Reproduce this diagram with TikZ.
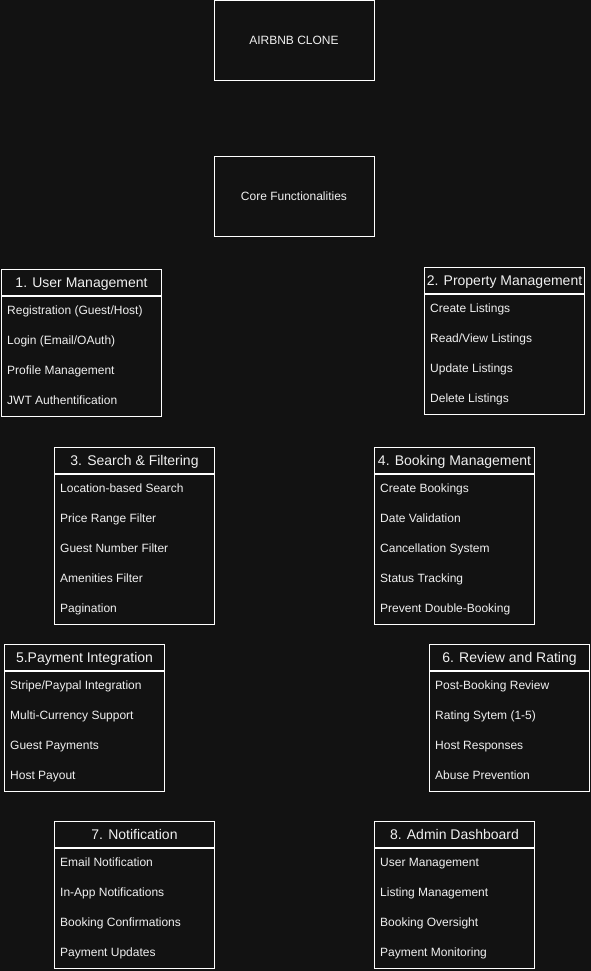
\documentclass[tikz,border=0pt]{standalone}
\usepackage{fontspec}
\setmainfont{Liberation Sans}
\usepackage{tikz}
\usetikzlibrary{positioning}
\usepackage{xcolor}
\definecolor{canvasdark}{RGB}{18,18,18}
\definecolor{inkwhite}{RGB}{240,240,240}

\begin{document}
\begin{tikzpicture}[
    x=1pt, y=-1pt,
    every node/.style={font=\fontsize{12}{14}\selectfont, text=inkwhite},
    titlebox/.style={rectangle, draw=white, line width=1pt, minimum width=160pt, minimum height=80pt, inner sep=0pt, text height=8.6pt, text depth=0pt},
    header/.style={rectangle, draw=white, line width=1pt, minimum width=160pt, minimum height=26pt, inner sep=0pt, anchor=north west, text height=10pt, text depth=0pt, font=\fontsize{14}{16}\selectfont},
    listbody/.style={rectangle, draw=white, line width=1pt, minimum width=160pt, inner sep=0pt, anchor=north},
    entry/.style={anchor=west, inner sep=0pt, text height=8.6pt, text depth=0pt}
]

% Canvas
\fill[canvasdark] (0,0) rectangle (591,971);

% Top boxes
\node[titlebox] (clone) at (294,40.5) {AIRBNB CLONE};
\node[titlebox] (core) at (294,196) {Core Functionalities};

% 1. User Management
\node[header] (user) at (1,269) {1. User Management};
\node[listbody, minimum height=120pt] (userbody) at (user.south) {};
\foreach \txt [count=\i from 0] in {{Registration (Guest/Host)}, {Login (Email/OAuth)}, Profile Management, JWT Authentification} {
    \node[entry] (user-\i) at ([shift={(6,{14.5+30*\i})}]user.south west) {\txt};
}

% 2. Property Management
\node[header] (property) at (424,267) {2. Property Management};
\node[listbody, minimum height=120pt] (propertybody) at (property.south) {};
\foreach \txt [count=\i from 0] in {Create Listings, {Read/View Listings}, Update Listings, Delete Listings} {
    \node[entry] (property-\i) at ([shift={(6,{14.5+30*\i})}]property.south west) {\txt};
}

% 3. Search & Filtering
\node[header] (search) at (54,447) {3. Search \& Filtering};
\node[listbody, minimum height=150pt] (searchbody) at (search.south) {};
\foreach \txt [count=\i from 0] in {Location-based Search, Price Range Filter, Guest Number Filter, Amenities Filter, Pagination} {
    \node[entry] (search-\i) at ([shift={(6,{14.5+30*\i})}]search.south west) {\txt};
}

% 4. Booking Management
\node[header] (booking) at (374,447) {4. Booking Management};
\node[listbody, minimum height=150pt] (bookingbody) at (booking.south) {};
\foreach \txt [count=\i from 0] in {Create Bookings, Date Validation, Cancellation System, Status Tracking, Prevent Double-Booking} {
    \node[entry] (booking-\i) at ([shift={(6,{14.5+30*\i})}]booking.south west) {\txt};
}

% 5. Payment Integration
\node[header] (payment) at (4,644) {5.Payment Integration};
\node[listbody, minimum height=120pt] (paymentbody) at (payment.south) {};
\foreach \txt [count=\i from 0] in {{Stripe/Paypal Integration}, Multi-Currency Support, Guest Payments, Host Payout} {
    \node[entry] (payment-\i) at ([shift={(6,{14.5+30*\i})}]payment.south west) {\txt};
}

% 6. Review and Rating
\node[header] (review) at (429,644) {6. Review and Rating};
\node[listbody, minimum height=120pt] (reviewbody) at (review.south) {};
\foreach \txt [count=\i from 0] in {Post-Booking Review, Rating Sytem (1-5), Host Responses, Abuse Prevention} {
    \node[entry] (review-\i) at ([shift={(6,{14.5+30*\i})}]review.south west) {\txt};
}

% 7. Notification
\node[header] (notify) at (54,821) {7. Notification};
\node[listbody, minimum height=120pt] (notifybody) at (notify.south) {};
\foreach \txt [count=\i from 0] in {Email Notification, In-App Notifications, Booking Confirmations, Payment Updates} {
    \node[entry] (notify-\i) at ([shift={(6,{14.5+30*\i})}]notify.south west) {\txt};
}

% 8. Admin Dashboard
\node[header] (admin) at (374,821) {8. Admin Dashboard};
\node[listbody, minimum height=120pt] (adminbody) at (admin.south) {};
\foreach \txt [count=\i from 0] in {User Management, Listing Management, Booking Oversight, Payment Monitoring} {
    \node[entry] (admin-\i) at ([shift={(6,{14.5+30*\i})}]admin.south west) {\txt};
}

\end{tikzpicture}
\end{document}
